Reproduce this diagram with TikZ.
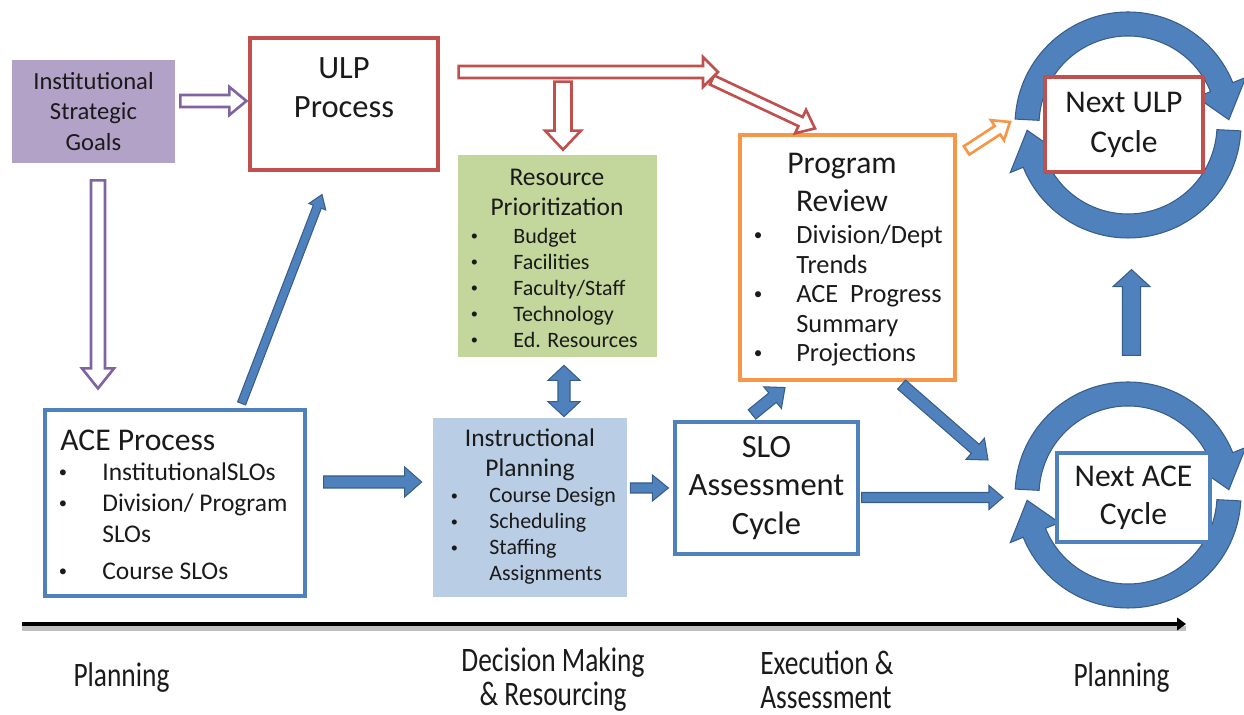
\documentclass[tikz,border=0pt]{standalone}
\usepackage{fontspec}
\setmainfont{Carlito}
\newfontfamily\narrowfont[FakeStretch=0.8]{Carlito}
\usepackage{graphicx}
\usepackage{xcolor}
\definecolor{goalPurple}{HTML}{B3A2C7}
\definecolor{goalEdge}{HTML}{8064A2}
\definecolor{ulpRed}{HTML}{C0504D}
\definecolor{resGreen}{HTML}{C3D69B}
\definecolor{planBlue}{HTML}{B9CDE5}
\definecolor{aceBlue}{HTML}{4F81BD}
\definecolor{arrowEdge}{HTML}{385D8A}
\definecolor{reviewOrange}{HTML}{F79646}
\definecolor{textDark}{HTML}{1A1A1A}
\usetikzlibrary{arrows.meta,calc,positioning}

% bullet items with a fixed gap before the text
\newcommand{\itm}[2][0.8cm]{\makebox[#1][l]{\raisebox{0.12em}{\scalebox{0.65}{\textbullet}}}#2}
\newcommand{\cnt}[2][0.8cm]{\hspace*{#1}#2}

% block arrow between two points (shaft, head width, head length from keys)
\newcommand{\blockarrow}[3][]{%
  \begin{scope}[#1]
    \coordinate (ba tail) at (#2);
    \coordinate (ba tip) at (#3);
    \coordinate (ba base) at ($(ba tip)!\headl!(ba tail)$);
    \filldraw ($(ba tail)!\shaftw!90:(ba tip)$)
      -- ($(ba base)!\shaftw!-90:(ba tail)$)
      -- ($(ba base)!\headw!-90:(ba tail)$)
      -- (ba tip)
      -- ($(ba base)!\headw!90:(ba tail)$)
      -- ($(ba base)!\shaftw!90:(ba tail)$)
      -- ($(ba tail)!\shaftw!-90:(ba tip)$) -- cycle;
  \end{scope}}

% same with a head at both ends
\newcommand{\dblarrow}[3][]{%
  \begin{scope}[#1]
    \coordinate (ba tail) at (#2);
    \coordinate (ba tip) at (#3);
    \coordinate (ba base) at ($(ba tip)!\headl!(ba tail)$);
    \coordinate (ba back) at ($(ba tail)!\headl!(ba tip)$);
    \filldraw (ba tail)
      -- ($(ba back)!\headw!90:(ba tip)$)
      -- ($(ba back)!\shaftw!90:(ba tip)$)
      -- ($(ba base)!\shaftw!-90:(ba tail)$)
      -- ($(ba base)!\headw!-90:(ba tail)$)
      -- (ba tip)
      -- ($(ba base)!\headw!90:(ba tail)$)
      -- ($(ba base)!\shaftw!90:(ba tail)$)
      -- ($(ba back)!\shaftw!-90:(ba tip)$)
      -- ($(ba back)!\headw!-90:(ba tip)$) -- cycle;
  \end{scope}}

% two curved arrows running round a centre
\newcommand{\cyclering}[1]{%
  \foreach \turn in {0,180}
    \filldraw[ringfill, shift={(#1)}, rotate=\turn]
      (177:2.26) arc[start angle=177, end angle=22, radius=2.26]
      -- (22:2.54) -- (3:2.02) -- (22:1.48) -- (22:1.78)
      arc[start angle=22, end angle=177, radius=1.78] -- cycle;}

\tikzset{
  shaftw/.store in=\shaftw, headw/.store in=\headw, headl/.store in=\headl,
  shaftw=0.1cm, headw=0.25cm, headl=0.3cm,
}

\begin{document}
\begin{tikzpicture}[
    every node/.style={inner sep=0pt, text=textDark},
    box/.style={draw, line width=1.8pt, rectangle, align=center},
    solidblue/.style={draw=arrowEdge, fill=aceBlue, line width=0.6pt},
    hollow/.style={fill=white, line width=1.5pt},
    ringfill/.style={fill=aceBlue, draw=arrowEdge, line width=0.6pt},
    stage/.style={font=\narrowfont\fontsize{19.5}{19.4}\selectfont},
  ]
  \useasboundingbox (0,0) rectangle (24.88,14.3);

  % Planning
  \node (isg) [rectangle, fill=goalPurple, minimum width=3.26cm, minimum height=2.06cm,
               align=center, font=\fontsize{14}{17.4}\selectfont] at (1.87,12.07)
    {Institutional\\Strategic\\Goals};

  \node (ulp) [box, draw=ulpRed, minimum width=3.76cm, minimum height=2.64cm] at (6.88,12.22) {};
  \node (ulptext) [align=center, font=\fontsize{18.5}{22}\selectfont] at (6.88,12.55) {ULP\\Process};

  \node (ace) [box, draw=aceBlue, minimum width=5.2cm, minimum height=3.72cm] at (3.5,4.24) {};
  \node (acetitle) [anchor=west, font=\fontsize{18}{22}\selectfont] at (1.2,5.5) {ACE Process};
  \node (acelist) [anchor=west, align=left, font=\fontsize{14.5}{17.6}\selectfont] at (1.17,3.87)
    {\itm[0.87cm]{InstitutionalSLOs}\\ \itm[0.87cm]{Division/ Program}\\ \cnt[0.87cm]{SLOs}\\[0.12cm]
     \itm[0.87cm]{Course SLOs}};

  % Decision making
  \node (rp) [rectangle, fill=resGreen, minimum width=3.98cm, minimum height=4.04cm] at (11.15,9.18) {};
  \node (rptitle) [align=center, font=\fontsize{14.5}{17}\selectfont] at (11.14,10.46)
    {Resource\\Prioritization};
  \node (rplist) [anchor=west, align=left, font=\fontsize{12.5}{14.8}\selectfont] at (9.41,8.54)
    {\itm[0.85cm]{Budget}\\ \itm[0.85cm]{Facilities}\\ \itm[0.85cm]{Faculty/Staff}\\
     \itm[0.85cm]{Technology}\\ \itm[0.85cm]{Ed. Resources}};

  \node (ip) [rectangle, fill=planBlue, minimum width=3.88cm, minimum height=3.58cm] at (10.6,4.15) {};
  \node (iptitle) [align=center, font=\fontsize{14.5}{17}\selectfont] at (10.6,5.2)
    {Instructional\\Planning};
  \node (iplist) [anchor=west, align=left, font=\fontsize{12.5}{14.8}\selectfont] at (9.01,3.58)
    {\itm[0.77cm]{Course Design}\\ \itm[0.77cm]{Scheduling}\\ \itm[0.77cm]{Staffing}\\
     \cnt[0.77cm]{Assignments}};

  % Execution
  \node (slo) [box, draw=aceBlue, fill=white, minimum width=3.66cm, minimum height=2.64cm,
               font=\fontsize{18.5}{21.9}\selectfont] at (15.33,4.54) {SLO\\Assessment\\Cycle};

  \node (pr) [box, draw=reviewOrange, minimum width=4.3cm, minimum height=4.9cm] at (16.95,9.15) {};
  \node (prtitle) [align=center, font=\fontsize{18}{22}\selectfont] at (16.84,10.65) {Program\\Review};
  \node (prlist) [anchor=west, align=left, font=\fontsize{15}{16.8}\selectfont] at (15.07,8.38)
    {\itm[0.85cm]{Division/Dept}\\ \cnt[0.85cm]{Trends}\\ \itm[0.85cm]{ACE~ Progress}\\
     \cnt[0.85cm]{Summary}\\ \itm[0.85cm]{Projections}};

  % Next cycles
  \coordinate (ulpring) at (22.56,11.8);
  \coordinate (acering) at (22.56,4.4);
  \cyclering{ulpring}
  \cyclering{acering}
  \node (nulp) [box, draw=ulpRed, fill=white, minimum width=3.16cm, minimum height=1.9cm,
                font=\fontsize{18}{22.8}\selectfont] at (22.48,11.81) {Next ULP\\Cycle};
  \node (nace) [box, draw=aceBlue, fill=white, minimum width=3.06cm, minimum height=1.78cm,
                font=\fontsize{18}{21.6}\selectfont] at (22.67,4.35) {Next ACE\\Cycle};

  % Hollow arrows
  \coordinate (fork) at (14.36,12.86);
  \blockarrow[hollow, draw=goalEdge, shaftw=0.12cm, headw=0.28cm, headl=0.34cm]
    {[xshift=0.1cm,yshift=0.21cm]isg.east}{[xshift=-0.04cm,yshift=0.06cm]ulp.west}
  \blockarrow[hollow, draw=goalEdge, shaftw=0.14cm, headw=0.32cm, headl=0.4cm]
    {[xshift=0.09cm,yshift=-0.34cm]isg.south}{[xshift=-1.54cm,yshift=0.4cm]ace.north}
  \blockarrow[hollow, draw=ulpRed, shaftw=0.1cm, headw=0.26cm, headl=0.32cm]
    {[xshift=-0.12cm,yshift=-0.16cm]fork}{[xshift=-0.65cm,yshift=0.1cm]pr.north}
  \blockarrow[hollow, draw=ulpRed, shaftw=0.12cm, headw=0.3cm, headl=0.3cm]
    {[xshift=0.38cm,yshift=0.64cm]ulp.east}{fork}
  \blockarrow[hollow, draw=ulpRed, shaftw=0.17cm, headw=0.36cm, headl=0.38cm]
    {[xshift=0.11cm,yshift=1.46cm]rp.north}{[xshift=0.11cm,yshift=0.1cm]rp.north}
  \blockarrow[hollow, draw=reviewOrange, shaftw=0.1cm, headw=0.24cm, headl=0.3cm]
    {[xshift=0.2cm,yshift=-0.34cm]pr.north east}{[xshift=-2.28cm,yshift=0.05cm]nulp.center}

  % Solid arrows
  \blockarrow[solidblue, shaftw=0.085cm, headw=0.18cm, headl=0.26cm]
    {[xshift=-1.3cm,yshift=0.1cm]ace.north east}{[xshift=-0.44cm,yshift=-0.46cm]ulp.south}
  \blockarrow[solidblue, shaftw=0.12cm, headw=0.3cm, headl=0.34cm]
    {[xshift=0.34cm,yshift=0.42cm]ace.east}{[xshift=-0.22cm,yshift=0.51cm]ip.west}
  \blockarrow[solidblue, shaftw=0.1cm, headw=0.26cm, headl=0.32cm]
    {[xshift=0.06cm,yshift=0.39cm]ip.east}{[xshift=-0.1cm]slo.west}
  \dblarrow[solidblue, shaftw=0.12cm, headw=0.32cm, headl=0.3cm]
    {[xshift=0.13cm,yshift=-0.16cm]rp.south}{[xshift=0.68cm,yshift=0.02cm]ip.north}
  \blockarrow[solidblue, shaftw=0.12cm, headw=0.28cm, headl=0.32cm]
    {[xshift=-0.29cm,yshift=0.12cm]slo.north}{[xshift=-1.25cm,yshift=-0.12cm]pr.south}
  \blockarrow[solidblue, shaftw=0.12cm, headw=0.28cm, headl=0.34cm]
    {[xshift=-1.1cm,yshift=-0.06cm]pr.south east}{[xshift=-2.91cm,yshift=0.75cm]nace.center}
  \blockarrow[solidblue, shaftw=0.1cm, headw=0.24cm, headl=0.28cm]
    {[xshift=0.04cm,yshift=-0.19cm]slo.east}{[xshift=-2.61cm]nace.center}
  \blockarrow[solidblue, shaftw=0.18cm, headw=0.37cm, headl=0.34cm]
    {[xshift=-0.04cm,yshift=1.92cm]nace.north}{[xshift=0.15cm,yshift=-1.92cm]nulp.south}

  % Time line
  \coordinate (tlstart) at (0.44,1.82);
  \coordinate (tlend) at (23.72,1.82);
  \draw[black!25, line width=3pt] ([yshift=-2.5pt]tlstart) -- ([yshift=-2.5pt]tlend);
  \draw[line width=2.8pt, -{Triangle[length=5pt, width=7pt]}] (tlstart) -- (tlend);

  \node (lplan) [stage] at (2.43,0.74) {Planning};
  \node (ldecide) [stage, align=center] at (11.06,0.7) {Decision Making\\\& Resourcing};
  \node (lexec) [stage, anchor=west, align=left] at (15.2,0.7) {Execution \&\\Assessment};
  \node (rplan) [stage] at (22.43,0.74) {Planning};
\end{tikzpicture}
\end{document}
